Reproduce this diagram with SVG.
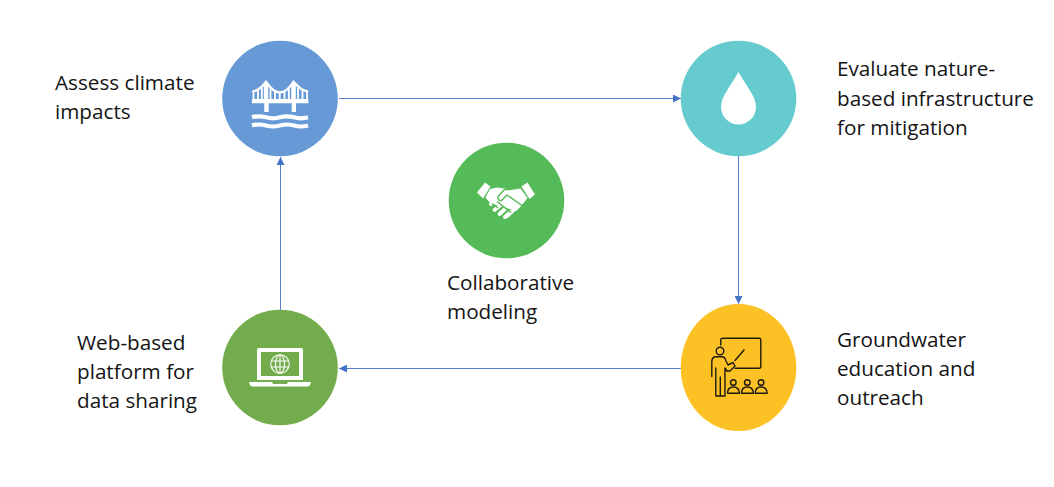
<svg xmlns="http://www.w3.org/2000/svg" width="1054" height="487" viewBox="0 0 1054 487">
<style>
text{font-family:"Open Sans","Liberation Sans",sans-serif;font-size:20.700px;fill:#141414}
.c{fill:none;stroke:#4472c4;stroke-width:.9}
.w{fill:#fff}
.ws{fill:none;stroke:#fff}
.k{fill:none;stroke:#1f1a10;stroke-width:1.400;stroke-linejoin:round;stroke-linecap:round}
</style>
<defs>
<marker id="a" markerUnits="userSpaceOnUse" markerWidth="9" markerHeight="8" refX="8" refY="4" orient="auto"><path d="M0 0L8 4L0 8Z" fill="#4472c4"/></marker>
</defs>
<rect width="1054" height="487" fill="#fff"/>
<g id="connectors">
<path class="c" d="M339 98.500H681" marker-end="url(#a)"/>
<path class="c" d="M738.500 156V304" marker-end="url(#a)"/>
<path class="c" d="M681 368.500H339" marker-end="url(#a)"/>
<path class="c" d="M280.500 310V157" marker-end="url(#a)"/>
</g>
<g id="node-assess">
<circle cx="280" cy="98.500" r="57.800" fill="#6699d5"/>
<path class="w" d="M252 99H308.300V103.300H296V112H291.700V103.300H268.700V112H264.300V103.300H252Z"/>
<path class="w" d="M263.800 99V83Q266 77.500 268.200 83V99ZM291.200 99V83Q293.500 77.500 295.800 83V99Z"/>
<path class="ws" stroke-width="2.300" d="M252.500 91.500Q260 90 265 83M267 83Q273 92 279.700 92.500Q287 92 292.500 83M295 83Q300 90 308 91.500"/>
<path class="ws" stroke-width="1.800" d="M253.500 91V99M258 90V99M261.800 88V99M270.500 88V99M275 91V99M279.700 92V99M284.500 91V99M288.800 88V99M298 88V99M302.500 90V99M307 91V99"/>
<path class="ws" stroke-width="4.200" d="M252 117.300Q259 115.300 266 117.300T280 117.300T294 117.300T308 117.300M252 125.500Q259 123.500 266 125.500T280 125.500T294 125.500T308 125.500"/>
</g>
<g id="node-evaluate">
<circle cx="738.500" cy="98.500" r="57.800" fill="#66cbce"/>
<path class="w" d="M738.500 72C731 86 721 96 721 107A17.500 17.500 0 0 0 756 107C756 96 746 86 738.500 72Z"/>
</g>
<g id="node-collab">
<circle cx="506.500" cy="200.500" r="57.800" fill="#55bb59"/>
<path class="w" d="M485 182.500L490.500 186.500L483 198.500L477 192.500Z"/>
<path class="w" d="M527.500 182.500L535 194.500L529.500 199L521.500 186.500Z"/>
<path class="w" d="M490 189L497 187.500L504 188.500L511 190L520.500 188.500L527.500 198L521.500 205.500L516 211L490 203L485.500 197.500Z"/>
<g class="ws" stroke-width="3.800" stroke-linecap="round">
<path d="M491 204L495 201"/><path d="M494.500 210L500 205.500"/><path d="M499.500 214L505 209"/><path d="M505 217L510.500 212"/><path d="M507 216L520 204"/>
</g>
<path fill="none" stroke="#55bb59" stroke-width="1.500" stroke-linejoin="round" d="M511 189.500L504.500 189.500L498 196.500Q497.500 201 501.500 200.500L507 195L522 205.500M492 203.500L498 208M497 201.500L511 212.500"/>
</g>
<g id="node-outreach">
<ellipse cx="738.500" cy="367.500" rx="57.800" ry="63.500" fill="#fbc125"/>
<path class="k" d="M720.800 345V340Q720.800 338.300 722.500 338.300H759Q760.800 338.300 760.800 340V366.500Q760.800 368.300 759 368.300H735"/>
<path class="k" d="M744 350L735 360.500"/>
<circle class="k" cx="720" cy="351" r="3.800"/>
<path class="k" d="M711.800 376.500V362Q711.800 356.800 716 356.800H722Q725 356.800 726 361L728 365L733 362.500L735 366L730 371L727 371L725 368V396H715.800V368M720.300 377V396"/>
<g class="k">
<circle cx="733.300" cy="382.500" r="2.800"/><path d="M727.500 393.300Q727.500 387 733.300 387T739.500 393.300Z"/>
<circle cx="747.300" cy="382.500" r="2.800"/><path d="M741.500 393.300Q741.500 387 747.300 387T753.500 393.300Z"/>
<circle cx="761" cy="382.500" r="2.800"/><path d="M755.200 393.300Q755.200 387 761 387T767.200 393.300Z"/>
</g>
</g>
<g id="node-platform">
<circle cx="280" cy="367.500" r="57.800" fill="#72ac4c"/>
<path class="w" fill-rule="evenodd" d="M259 348H301Q303 348 303 350V380H257V350Q257 348 259 348ZM261 352V376H299V352Z"/>
<path class="w" d="M249 382H272L273 384H287L288 382H311L310 385Q309 386.500 307 386.500H253Q251 386.500 250 385Z"/>
<g class="ws" stroke-width="1.100">
<circle cx="280" cy="364" r="9.300"/><ellipse cx="280" cy="364" rx="4.500" ry="9.300"/><path d="M280 354.700V373.300M271 361H289M271 367H289"/>
</g>
</g>
<g id="labels">
<text x="55" y="90">Assess climate</text><text x="55" y="119">impacts</text>
<text x="837" y="76">Evaluate nature-</text><text x="837" y="106">based infrastructure</text><text x="837" y="135">for mitigation</text>
<text x="447" y="290">Collaborative</text><text x="447" y="319">modeling</text>
<text x="837" y="347">Groundwater</text><text x="837" y="376">education and</text><text x="837" y="405">outreach</text>
<text x="77" y="350">Web-based</text><text x="77" y="379">platform for</text><text x="77" y="408">data sharing</text>
</g>
</svg>
